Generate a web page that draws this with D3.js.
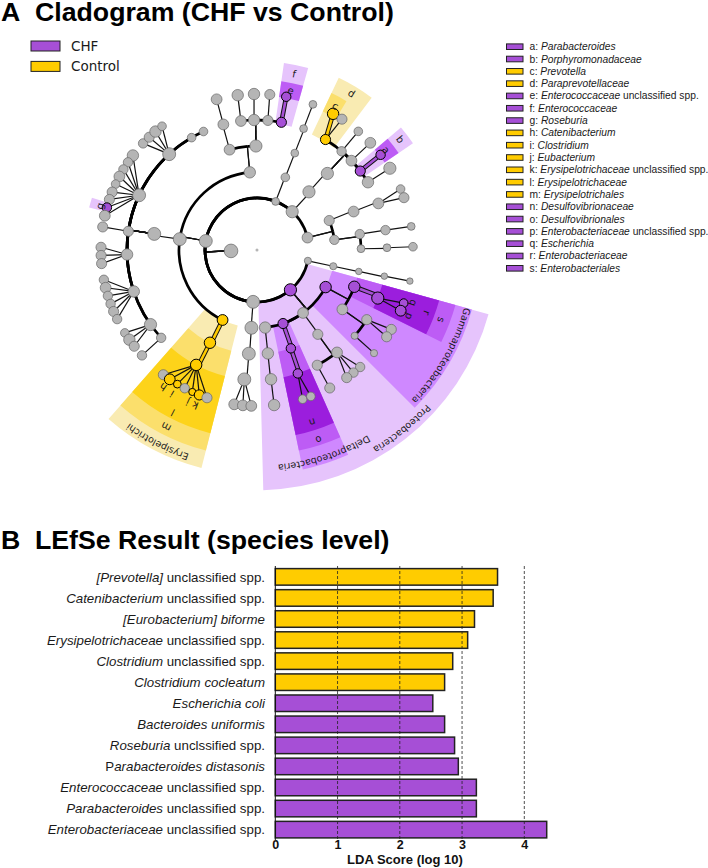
<!DOCTYPE html>
<html><head><meta charset="utf-8">
<script src="https://cdn.jsdelivr.net/npm/d3@7"></script>
<style>html,body{margin:0;padding:0;background:#fff}svg{display:block}</style>
</head><body><svg id="c" width="708" height="868"></svg>
<script>
// ---------- Cladogram data: [id, parent, taxonomic level, angle in degrees, abundance] ----------
const backbone = [["root",null,0,268,2],["L",null,1,268,40],["firm","L",2,280,36],["bact","L",2,42.6,32],["t1","L",2,21,13],["pos","L",2,76.2,25],
  ["pz","L",2,102,11],["prot","L",2,140,32],["z1","L",2,184.3,36]];
const upperFirmicutes = [["a3","firm",3,354.7,28],["a4","a3",4,344.7,25],["a5","a4",5,345,25],["a6","a5",6,345,25],
  ["b4","a3",4,359.4,32],["b5a","b4",5,352.9,25],["b5b","b4",5,358.7,28],["b5c","b4",5,4.8,22],["f","b4",5,10.8,22],
  ["b6a","b5a",6,352.9,28],["b6b","b5b",6,358.9,28],["b6c","b5c",6,4.7,22],["e","f",6,10.8,19]];
const lowerFirmicutes = [["c3","firm",3,278,36],["c4","c3",4,278.9,36],
  ["p5","c4",5,317.5,36],["p6a","p5",6,313.1,19],["p6b","p5",6,316.3,22],["p6c","p5",6,319.4,28],["p6d","p5",6,322.5,16],
  ["u5","c4",5,329.8,16],["u6","c4",5,335.7,16],
  ["q5","c4",5,294.9,36],["q6a","q5",6,307.3,28],["q6b","q5",6,304.2,19],["q6c","q5",6,301.1,19],["q6d","q5",6,298.1,25],["q6e","q5",6,295,16],["q6f","q5",6,291.8,22],["q6g","q5",6,288.9,22],["g","q5",6,285.8,19],["q6h","q5",6,282.7,25],
  ["r5","c4",5,278.3,22],["r6","r5",6,278.5,22],
  ["s5","c4",5,268,28],["s6a","s5",6,271,22],["s6b","s5",6,268,22],["s6c","s5",6,265,22],
  ["v5","c4",5,251.4,28],["v6a","v5",6,259,19],["v6b","v5",6,256,25],["v6c","v5",6,252.9,19],["v6d","v5",6,249.8,19],["v6e","v5",6,246.8,22],["v6f","v5",6,243.7,19],
  ["w5","c4",5,235,32],["w6a","w5",6,237.9,16],["w6b","w5",6,234.9,28],["w6c","w5",6,231.9,22],
  ["y5","c4",5,227.5,19],["y6","y5",6,227.5,19]];
const erysipelotrichi = [["ery","firm",3,206.2,25],["m","ery",4,206.9,28],["l","m",5,207.9,28],
  ["l6a","l",6,216.9,22],["h","l",6,214,25],["i","l",6,210.7,13],["l6b","l",6,207.6,19],["j","l",6,204.5,11],["k","l",6,201.7,22],["l6c","l",6,198.7,22]];
const tenericutes = [["t3","t1",3,21.3,16],["t4","t3",4,21.3,13],["t5","t4",5,21,13],["t6","t5",6,21,13]];
const bacteroidetes = [["b3","bact",3,41.8,32],["b4x","b3",4,42.6,32],["d","b4x",5,31.8,22],["k5a","b4x",5,40.6,19],["k5b","b4x",5,46.6,25],["b","b4x",5,52.6,22],["k5c","b4x",5,58.6,28],
  ["c","d",6,29.2,28],["d6","d",6,33,22],["k6a","k5a",6,40.5,16],["k6b","k5b",6,46.6,25],["a","b",6,52.4,19],["k6c","k5c",6,58.4,32]];
const actino = [["x3a","pos",3,67.8,22],["x3b","pos",3,82.5,19],["x4a","x3a",4,68.3,25],["x5a","x4a",5,69,25],["x6a","x5a",6,67,16],["x6b","x5a",6,70.4,22],
  ["x4b","x3b",4,81.2,19],["x4c","x3b",4,89.3,13],["x5b","x4b",5,81.2,19],["x6c","x5b",6,81.3,13],["x5c","x4c",5,89,13],["x6d","x5c",6,88.8,16]];
const otherPhyla = [["pz3","pz",3,102,11],["pz4","pz3",4,101.9,9],["pz5","pz4",5,101.6,9],["pz6","pz5",6,101.5,9],
  ["z3","z1",3,184.1,36],["z4","z3",4,184.5,36],["z5","z4",5,185.6,36],["z6a","z5",6,188.4,25],["z6b","z5",6,185.2,25],["z6c","z5",6,182.1,25]];
const proteobacteria = [["gam","prot",3,118.4,28],["eps","prot",3,143.8,25],["del","prot",3,160.5,22],["o3","prot",3,174,28],
  ["s","gam",4,110.7,28],["g4","gam",4,124.8,25],["r","s",5,111.7,32],["q","r",6,109.9,16],["p","r",6,112.9,25],
  ["g5a","g4",5,122.4,22],["g5b","g4",5,131.3,11],["g6a","g5a",6,120.6,22],["g6b","g5a",6,123.8,22],["g6c","g5b",6,131.4,11],
  ["e4","eps",4,144.2,22],["e5a","e4",5,142,25],["e5b","e4",5,152.4,22],["e6a","e5a",6,138.6,19],["e6b","e5a",6,141.8,19],["e6c","e5a",6,144.9,22],["e6d","e5b",6,152.2,22],
  ["o","del",4,161,19],["n","o",5,161.7,19],["n6a","n",6,163,16],["n6b","n",6,159.8,16],
  ["o4","o3",4,174,28],["o5","o4",5,173.8,28],["o6","o5",6,173.7,28]];
const chfTaxa = ["a","b","e","f","g","n","o","p","q","r","s","gam","del","prot"];
const controlTaxa = ["c","d","h","i","j","k","l","m","ery"];
const highlightedEdges = ["e","c","a","r","o","n","m","l"];
// clade highlight wedges: [group, shade, angle from, angle to, level from, level to]
const wedges = [["CHF",0,105.5,178.5,2,9.24],["CHF",1,105.5,135,3,8.58],["CHF",2,105.5,116.5,4,7.92],["CHF",3,105.5,116.5,5,7.27],
  ["CHF",1,156,168.2,3,8.62],["CHF",2,156,168.2,4,7.88],["CHF",3,156,168.2,5,7.27],
  ["Control",0,194.3,221.3,3,8.65],["Control",1,194.3,221.3,4,7.96],["Control",2,194.3,221.3,5,7.27],
  ["CHF",0,8.2,15.7,4.92,7.27],["CHF",2,8.2,15.7,5.95,6.56],
  ["Control",0,25.4,37,4.92,7.33],["Control",1,25.4,31,5.9,6.68],
  ["CHF",0,49.6,55.6,4.92,7.27],["CHF",2,49.6,55.6,5.95,6.6],
  ["CHF",0,284.2,287.6,5.95,6.66]];
const cladeLetters = [["a",52.2,163],["b",52.3,181],["c",28.5,164],["d",31.1,183],["e",11.9,163],["f",11.9,180],["g",285.7,163],
  ["h",214.4,166],["i",210.6,167],["j",204.5,167],["k",201.7,167],["l",207.4,183],["m",207.2,199],
  ["n",162.2,181],["o",162,199.5],["p",113.5,166],["q",108.7,165],["r",110.3,181],["s",110.8,197]];
const cladeNames = [["Proteobacteria",141,229],["Gammaproteobacteria",119.8,215],["Deltaproteobacteria",161.8,215.5],["Erysipelotrichi",207.4,215]];

// ---------- Legends ----------
const groups = ["CHF","Control"];
const taxaLegend = ["a: *Parabacteroides*","b: *Porphyromonadaceae*","c: *Prevotella*","d: *Paraprevotellaceae*","e: *Enterococcaceae* unclassified spp.","f: *Enterococcaceae*","g: *Roseburia*","h: *Catenibacterium*","i: *Clostridium*","j: *Eubacterium*","k: *Erysipelotrichaceae* unclassified spp.","l: *Erysipelotrichaceae*","m: *Erysipelotrichales*","n: *Desulfovibrionaceae*","o: *Desulfovibrionales*","p: *Enterobacteriaceae* unclassified spp.","q: *Escherichia*","r: *Enterobacteriaceae*","s: *Enterobacteriales*"];

// ---------- Bar chart data ----------
const barLabels = ["*[Prevotella]* unclassified spp.","*Catenibacterium* unclassified spp.","*[Eurobacterium] biforme*","*Erysipelotrichaceae* unclassified spp.","*Clostridium* unclassified spp.","*Clostridium cocleatum*","*Escherichia coli*","*Bacteroides uniformis*","*Roseburia* unclssified spp.","P*arabacteroides distasonis*","*Enterococcaceae* unclassified spp.","*Parabacteroides* unclassified spp.","*Enterobacteriaceae* unclassified spp."];
const barValues = [3.57,3.50,3.20,3.09,2.85,2.72,2.53,2.72,2.88,2.94,3.23,3.23,4.36];
const barGroups = ["Control","Control","Control","Control","Control","Control","CHF","CHF","CHF","CHF","CHF","CHF","CHF"];
const ldaTicks = [0,1,2,3,4];

// ---------- Styles & scales ----------
const color = d3.scaleOrdinal(groups,["#a64fd6","#ffcc00"]);
const shades = {CHF:["#e6c4fc","#cf88ff","#bd5cf5","#9b1edd"],Control:["#f9ebb2","#fbdf6c","#fdd31a"]};
const SANS="'Liberation Sans',Arial,sans-serif", DEJA="'DejaVu Sans',sans-serif", INK="#1a1a1a";
const svg = d3.select("#c");
const deg = d3.scaleLinear([0,360],[0,2*Math.PI]);
const rad = d3.scaleLinear([0,1],[0,26]);
const size = d3.scaleSqrt([0,1],[0,1.08]);
const clade = svg.append("g").attr("transform","translate(257,250)");
const pos = (a,r)=>d3.pointRadial(deg(a),r);

function richText(sel,str){
  str.split("*").forEach((s,i)=>{ if(s) sel.append("tspan").attr("font-style",i%2?"italic":"normal").text(s); });
}

// wedges
const arcGen = d3.arc();
clade.append("g").selectAll("path").data(wedges).join("path")
  .attr("fill",d=>shades[d[0]][d[1]])
  .attr("d",d=>arcGen({startAngle:deg(d[2]),endAngle:deg(d[3]),innerRadius:rad(d[4]),outerRadius:rad(d[5])}));

// tree
const rows = [].concat(backbone,upperFirmicutes,lowerFirmicutes,erysipelotrichi,tenericutes,bacteroidetes,actino,otherPhyla,proteobacteria);
const nodes = rows.map(([id,parent,level,angle,abundance])=>({id,parent,level,angle,abundance,
  group:chfTaxa.includes(id)?"CHF":controlTaxa.includes(id)?"Control":null}));
const byId = new Map(nodes.map(n=>[n.id,n]));
const edges = nodes.filter(n=>n.parent).map(n=>({c:n,p:byId.get(n.parent)}));
function radialPath({c,p}){
  const path=d3.path(), a=pos(p.angle,rad(p.level)), b=c.level===6?pos(c.angle,rad(c.level)):pos(p.angle,rad(c.level));
  path.moveTo(a[0],a[1]); path.lineTo(b[0],b[1]); return path.toString();
}
function arcPath({c,p}){
  const path=d3.path(), r=rad(c.level);
  let diff=((c.angle-p.angle+540)%360)-180;
  const a0=deg(p.angle)-Math.PI/2, a1=a0+deg(Math.abs(diff))*Math.sign(diff);
  path.arc(0,0,r,a0,a1,diff<0); return path.toString();
}
const plain = edges.filter(e=>!highlightedEdges.includes(e.c.id));
const eg = clade.append("g").attr("fill","none");
eg.selectAll(".rad").data(plain).join("path").attr("class","rad").attr("d",radialPath).attr("stroke","#111").attr("stroke-width",1.2);
eg.selectAll(".arc").data(plain.filter(e=>e.c.level<6)).join("path").attr("class","arc").attr("d",arcPath).attr("stroke","#000").attr("stroke-width",2.7);
const hi = edges.filter(e=>highlightedEdges.includes(e.c.id));
eg.selectAll(".hio").data(hi).join("path").attr("class","hio").attr("d",radialPath).attr("stroke","#111").attr("stroke-width",4.6);
eg.selectAll(".hii").data(hi).join("path").attr("class","hii").attr("d",radialPath).attr("stroke",d=>color(d.c.group)).attr("stroke-width",2.6);

clade.append("g").selectAll("circle").data(nodes).join("circle")
  .attr("transform",d=>`translate(${d.level===0?[0,0]:pos(d.angle,rad(d.level))})`)
  .attr("r",d=>size(d.abundance))
  .attr("fill",d=>d.group?color(d.group):"#b5b5b5")
  .attr("stroke",d=>d.group?"#000":"#666")
  .attr("stroke-width",d=>d.group?1:(d.level===0?0:0.7));

// labels
clade.append("g").selectAll("text").data(cladeLetters).join("text")
  .attr("transform",d=>`translate(${pos(d[1],d[2])}) rotate(${d[1]})`)
  .attr("text-anchor","middle").attr("dy","0.35em").attr("font-family",DEJA).attr("font-size",10).attr("fill",INK).text(d=>d[0]);
const defs = svg.append("defs");
cladeNames.forEach((d,i)=>{
  const path=d3.path(), a=deg(d[1])-Math.PI/2, w=deg(45);
  path.arc(0,0,d[2],a-w,a+w,false);
  defs.append("path").attr("id","cn"+i).attr("d",path.toString());
  clade.append("text").attr("font-family",DEJA).attr("font-size",9.5).attr("fill",INK)
    .append("textPath").attr("href","#cn"+i).attr("startOffset","50%").attr("text-anchor","middle").text(d[0]);
});

// titles
const titles = svg.append("g").attr("font-family",SANS).attr("font-weight","bold").attr("font-size",26.7).attr("fill","#000");
titles.append("text").attr("x",1).attr("y",21).text("A");
titles.append("text").attr("x",35).attr("y",21).text("Cladogram (CHF vs Control)");
titles.append("text").attr("x",1).attr("y",549).text("B");
titles.append("text").attr("x",35).attr("y",549).text("LEfSe Result (species level)");

// group legend
const gy = d3.scalePoint(groups,[46,66.4]);
const gl = svg.append("g").selectAll("g").data(groups).join("g").attr("transform",d=>`translate(31,${gy(d)})`);
gl.append("rect").attr("y",-5).attr("width",29).attr("height",10).attr("fill",d=>color(d)).attr("stroke","#222").attr("stroke-width",1);
gl.append("text").attr("x",40).attr("dy","0.36em").attr("font-family",DEJA).attr("font-size",13.5).attr("fill",INK).text(d=>d);

// taxa legend
const ty = d3.scalePoint(d3.range(taxaLegend.length),[46.7,268.3]);
const tl = svg.append("g").selectAll("g").data(taxaLegend).join("g").attr("transform",(d,i)=>`translate(506.5,${ty(i)})`);
tl.append("rect").attr("y",-2.8).attr("width",16.5).attr("height",5.6)
  .attr("fill",d=>color(controlTaxa.includes(d[0])?"Control":"CHF")).attr("stroke","#222").attr("stroke-width",1);
tl.append("text").attr("x",23).attr("dy","0.34em").attr("font-family",SANS).attr("font-size",10.25).attr("fill",INK).each(function(d){richText(d3.select(this),d);});

// bars
const x = d3.scaleLinear([0,4],[275.3,524.3]);
const y = d3.scaleBand(barLabels,[566.5,840]).paddingInner(0.215).paddingOuter(0.1);
const bc = svg.append("g");
bc.selectAll("rect").data(barLabels).join("rect")
  .attr("x",x(0)).attr("y",d=>y(d)).attr("height",y.bandwidth())
  .attr("width",(d,i)=>x(barValues[i])-x(0))
  .attr("fill",(d,i)=>color(barGroups[i])).attr("stroke","#222").attr("stroke-width",1.5);
bc.selectAll(".grid").data(ldaTicks.slice(1)).join("line").attr("class","grid")
  .attr("x1",d=>x(d)).attr("x2",d=>x(d)).attr("y1",566).attr("y2",840)
  .attr("stroke","#222").attr("stroke-width",0.8).attr("stroke-dasharray","3,2");
bc.append("line").attr("x1",x(0)).attr("x2",x(0)).attr("y1",566).attr("y2",840).attr("stroke","#111").attr("stroke-width",1);
bc.selectAll(".lab").data(barLabels).join("text").attr("class","lab")
  .attr("x",265).attr("y",d=>y(d)+y.bandwidth()/2).attr("dy","0.35em").attr("text-anchor","end")
  .attr("font-family",SANS).attr("font-size",13.3).attr("fill",INK).each(function(d){richText(d3.select(this),d);});
const xAxis = d3.axisBottom(x).tickValues(ldaTicks).tickFormat(d3.format("d")).tickSize(0).tickPadding(0);
const ax = svg.append("g").attr("transform","translate(0,840)").call(xAxis);
ax.select(".domain").remove();
ax.selectAll("text").attr("font-family",SANS).attr("font-weight","bold").attr("font-size",12.5).attr("fill","#111");
svg.append("text").attr("x",405).attr("y",864).attr("text-anchor","middle").attr("font-family",SANS).attr("font-weight","bold").attr("font-size",13).attr("fill","#111").text("LDA Score (log 10)");
</script></body></html>
